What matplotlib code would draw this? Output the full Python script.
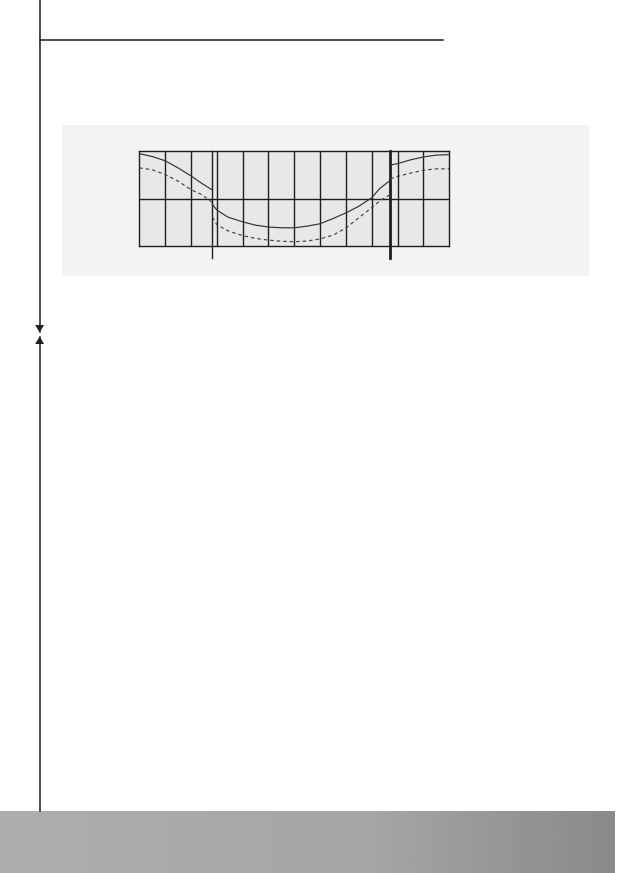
import numpy as np
import matplotlib
matplotlib.use("Agg")
import matplotlib.pyplot as plt
from matplotlib.patches import Rectangle, Polygon

# grid / chart values (x in grid cells 0..12, y in 0..2)
n_cols = 12
n_rows = 2
marker_left = 2.83
marker_right = 9.72

solid_a_x = [0, 0.5, 1, 1.5, 2, 2.4, 2.83]
solid_a_y = [1.95, 1.89, 1.80, 1.65, 1.48, 1.33, 1.18]
solid_b_x = [2.83, 3, 3.43, 4, 4.5, 5, 5.5, 6, 6.5, 7, 7.5, 8, 8.5, 9, 9.3, 9.72]
solid_b_y = [0.88, 0.76, 0.61, 0.51, 0.44, 0.40, 0.385, 0.385, 0.42, 0.47, 0.58, 0.70, 0.84, 1.02, 1.21, 1.39]
solid_c_x = [9.72, 10, 10.5, 11, 11.5, 12]
solid_c_y = [1.71, 1.74, 1.82, 1.88, 1.92, 1.93]

dash_a_x = [0, 0.5, 1, 1.5, 2, 2.4, 2.83]
dash_a_y = [1.65, 1.61, 1.51, 1.37, 1.19, 1.09, 0.92]
dash_b_x = [2.83, 3, 3.43, 4, 4.5, 5, 5.5, 6, 6.5, 7, 7.5, 8, 8.5, 9, 9.3, 9.72]
dash_b_y = [0.61, 0.45, 0.32, 0.22, 0.16, 0.125, 0.10, 0.09, 0.105, 0.15, 0.23, 0.38, 0.60, 0.81, 0.95, 1.09]
dash_c_x = [9.72, 10, 10.5, 11, 11.5, 12]
dash_c_y = [1.42, 1.47, 1.54, 1.60, 1.63, 1.63]

W, H = 629, 873
fig = plt.figure(figsize=(W / 100, H / 100), dpi=100)
fig.patch.set_facecolor("white")

# page layer in pixel coordinates
page = fig.add_axes([0, 0, 1, 1])
page.axis("off")

ink = "#1e1e1e"
page.plot([39.6, 39.6], [0, 332], color=ink, lw=1.1)
page.plot([39.6, 39.6], [337, 811], color=ink, lw=1.1)
page.plot([39.6, 443], [40.3, 40.3], color=ink, lw=1.1)
page.add_patch(Polygon([[35.2, 325], [44.0, 325], [39.6, 332.5]], closed=True, color=ink, lw=0))
page.add_patch(Polygon([[35.2, 344], [44.0, 344], [39.6, 336.5]], closed=True, color=ink, lw=0))

# grey panel behind the chart
page.add_patch(Rectangle((62.3, 125), 589 - 62.3, 276 - 125, facecolor="#f3f3f3", edgecolor="none"))

# bottom metal bar
t = np.linspace(0, 1, 400)
grad = np.interp(t, [0, 0.35, 0.6, 0.85, 1], [0.68, 0.66, 0.65, 0.58, 0.54]).reshape(1, -1)
page.imshow(grad, cmap="gray", vmin=0, vmax=1, extent=[0, 615, H, 811], aspect="auto", zorder=1)
page.set_xlim(0, W)
page.set_ylim(H, 0)

# chart box
left, right, top, bottom = 139.3, 449.3, 151.3, 246.0
ax = fig.add_axes([left / W, 1 - bottom / H, (right - left) / W, (bottom - top) / H])
ax.set_xlim(0, n_cols)
ax.set_ylim(0, n_rows)
ax.set_facecolor("#e8e8e8")
ax.set_xticks([])
ax.set_yticks([])
for s in ax.spines.values():
    s.set_color(ink)
    s.set_linewidth(1.0)

for i in range(1, n_cols):
    ax.axvline(i, color=ink, lw=1.0)
for j in range(1, n_rows):
    ax.axhline(j, color=ink, lw=1.0)

ax.plot([marker_left, marker_left], [-0.25, n_rows], color=ink, lw=1.0, clip_on=False)
ax.plot([marker_right, marker_right], [-0.25, n_rows], color=ink, lw=2.0, clip_on=False)

curve = "#333333"
for xs, ys in [(solid_a_x, solid_a_y), (solid_b_x, solid_b_y), (solid_c_x, solid_c_y)]:
    ax.plot(xs, ys, color=curve, lw=0.85, solid_joinstyle="round")
for xs, ys in [(dash_a_x, dash_a_y), (dash_b_x, dash_b_y), (dash_c_x, dash_c_y)]:
    ax.plot(xs, ys, color="#444444", lw=0.85, linestyle=(0, (3, 2.5)))

fig.savefig("out.png", dpi=100)
